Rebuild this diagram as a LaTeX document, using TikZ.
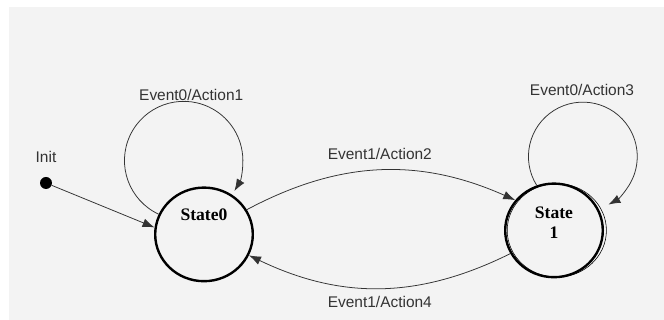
\documentclass[tikz,border=0pt]{standalone}
\usepackage{fontspec}
\setmainfont{Liberation Serif}
\setsansfont{Liberation Sans}
\usetikzlibrary{shapes.geometric,arrows.meta}
\definecolor{paper}{HTML}{F3F3F3}
\definecolor{ink}{HTML}{333333}

\begin{document}
\begin{tikzpicture}[>={Latex[length=3mm,width=2.2mm]},
    statebox/.style={shape=ellipse, draw=black, line width=1.7pt,
      minimum width=2.44cm, minimum height=2.34cm, align=center,
      font=\bfseries\fontsize{12.5}{13}\selectfont, inner sep=0pt},
    lbl/.style={font=\sffamily\fontsize{11}{13}\selectfont, text=ink},
    trans/.style={->, ink, line width=0.55pt}]
    \useasboundingbox (0,0) rectangle (16.6,8);
    \fill[paper] (0.225,0) rectangle (16.6,7.825);
    \node[statebox] at (5.1,2.14) (S0) {State0\\[0.52cm]};
    \node[statebox] at (13.85,2.24) (S1) {State\\[0.05cm]1\\[-0.08cm]};
    \draw[thin] ([xshift=2pt]S1.center) ellipse (1.24cm and 1.17cm);
    \node[shape=circle, fill=black, inner sep=0pt, minimum size=0.3cm] at (1.15,3.425) (I) {};
    \node[lbl] at (1.15,4.075) (LI) {Init};
    \path [trans] (I) edge (S0.172);
    % self loops
    \draw [trans] (S0.156) arc[start angle=245, end angle=-31, radius=1.48cm];
    \node[lbl] at (4.78,5.625) (L1) {Event0/Action1};
    \draw [trans] (S1.111) arc[start angle=212, end angle=-62, radius=1.36cm];
    \node[lbl] at (14.55,5.75) (L3) {Event0/Action3};
    % between the states
    \path [trans] (S0.30) edge[bend left=26] node[lbl, above=4pt] {Event1/Action2} (S1.142);
    \path [trans] (S1.208) edge[bend left=26] node[lbl, below=2pt] {Event1/Action4} (S0.335);
    \end{tikzpicture}
\end{document}
